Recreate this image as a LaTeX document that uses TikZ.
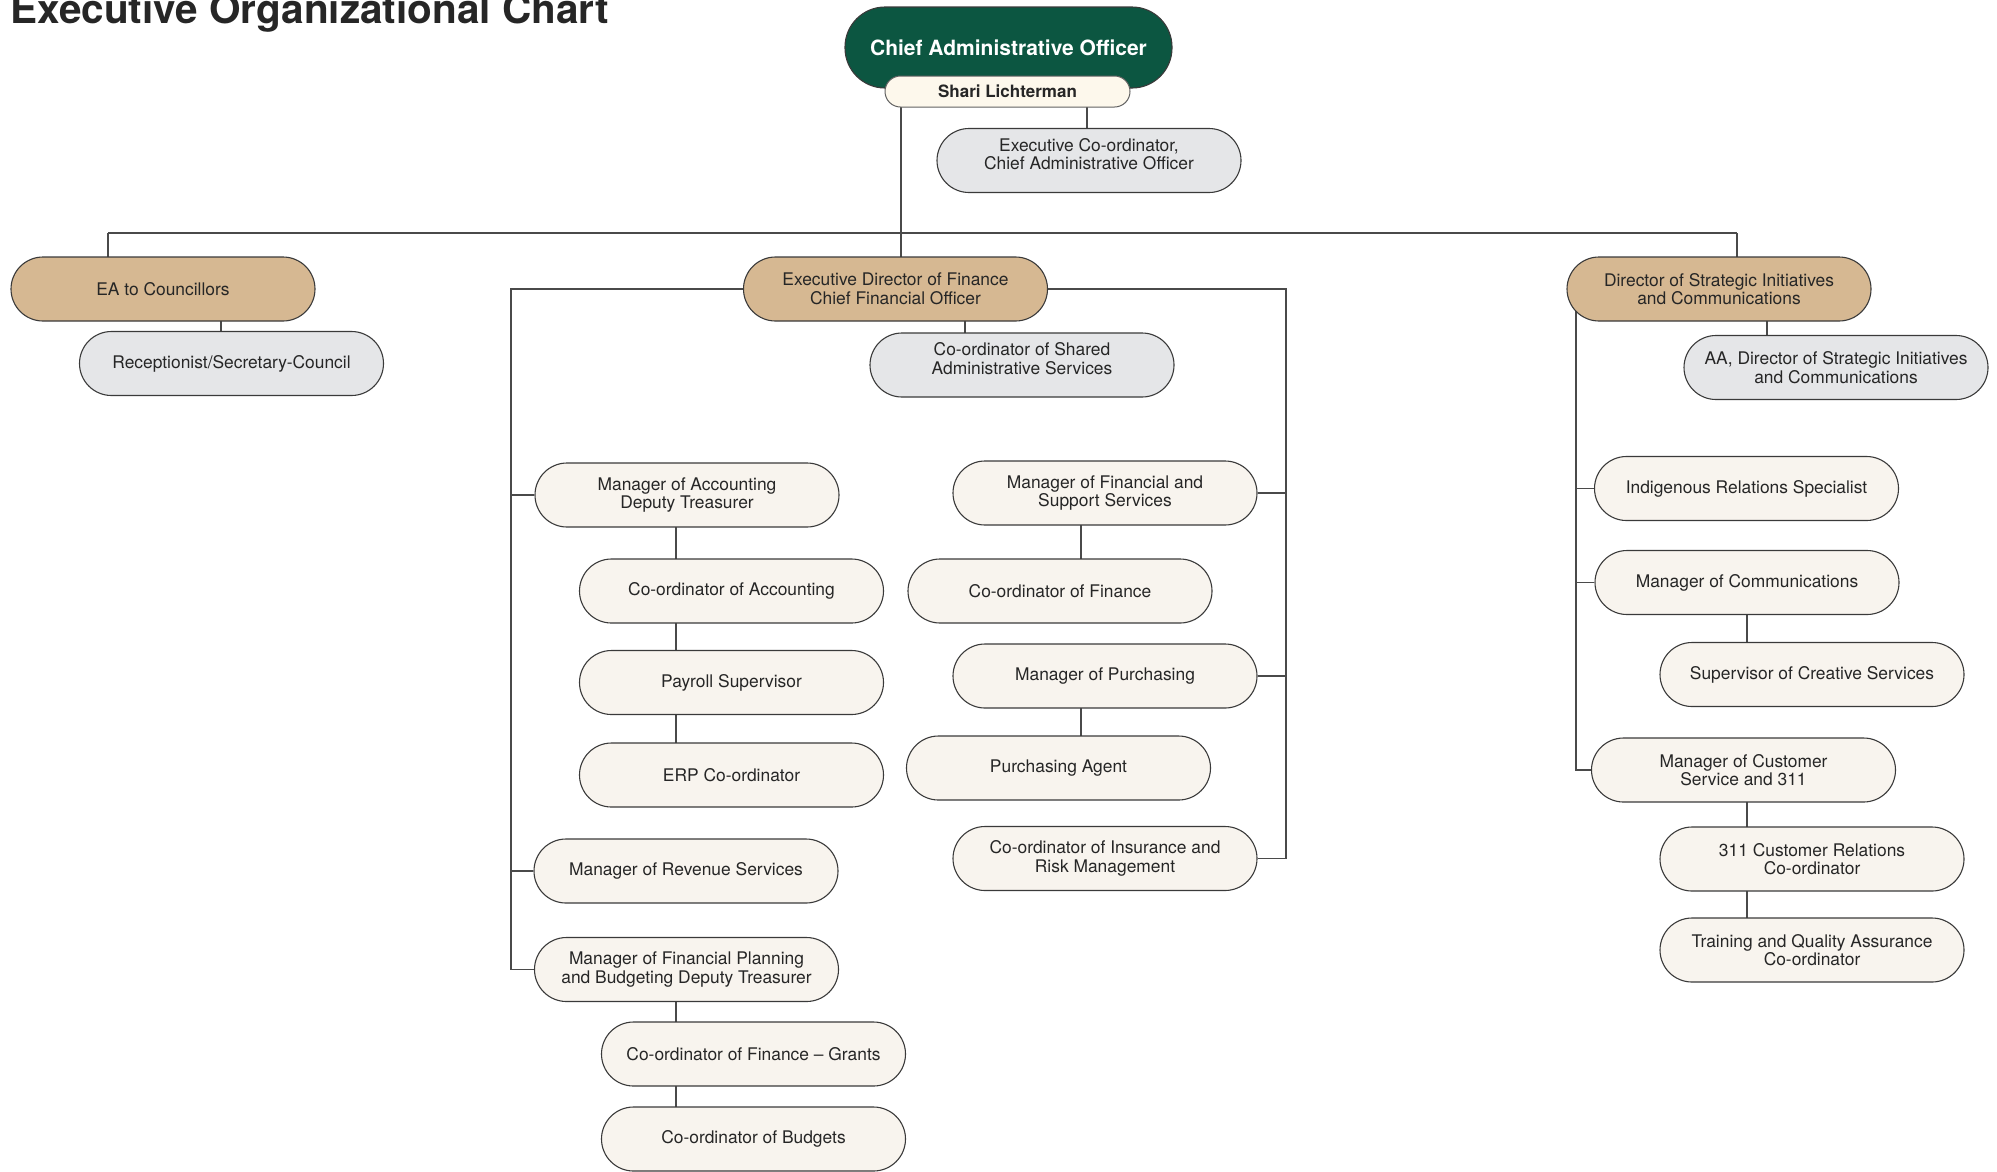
\documentclass[tikz,border=0pt]{standalone}
\usepackage{fontspec}
\setmainfont{TeX Gyre Heros}
\usetikzlibrary{backgrounds}

\definecolor{caogreen}{HTML}{0C5641}
\definecolor{tanfill}{HTML}{D6B892}
\definecolor{greyfill}{HTML}{E5E6E8}
\definecolor{creamfill}{HTML}{F8F4EE}
\definecolor{namefill}{HTML}{FDF8EC}
\definecolor{edgec}{HTML}{3A3A3A}
\definecolor{wirec}{HTML}{4A4A4A}
\definecolor{ink}{HTML}{262626}

\begin{document}
\begin{tikzpicture}[x=1pt,y=-1pt,
  pill/.style={draw=edgec, line width=1.1pt, rounded corners=32pt,
    minimum width=304pt, minimum height=64pt, inner sep=0pt,
    align=center, text=ink, font=\fontsize{17.4}{18.5}\selectfont},
  head/.style={pill, fill=tanfill},
  aide/.style={pill, fill=greyfill},
  raised/.style={text depth=13pt},
  staff/.style={pill, fill=creamfill},
  wire/.style={draw=wirec, line width=1.3pt}]

\useasboundingbox (0,0) rectangle (1997,1171);

% heading
\node[anchor=base west, inner sep=0pt, text=ink,
  font=\bfseries\fontsize{40.5}{40}\selectfont] (title) at (10,23)
  {Executive Organizational Chart};

% chief administrative officer
\node[draw=edgec, line width=1.1pt, fill=caogreen, rounded corners=40pt,
  minimum width=327pt, minimum height=81pt, inner sep=0pt, text=white,
  font=\bfseries\fontsize{21}{24}\selectfont] (cao) at (1008.5,47.5)
  {Chief Administrative Officer};
\node[draw=edgec!80, line width=1pt, fill=namefill, rounded corners=15.5pt,
  minimum width=245pt, minimum height=31pt, inner sep=0pt, text=ink,
  font=\bfseries\fontsize{17}{20}\selectfont] (name) at (1007.5,91.5)
  {Shari Lichterman};
\node[aide, raised] (execco) at (1089,160.5) {Executive Co-ordinator,\\Chief Administrative Officer};

% second level
\node[head] (ea) at (163,289) {EA to Councillors};
\node[aide] (recep) at (231.5,363.5) {Receptionist/Secretary-Council};

\node[head] (fin) at (895.5,289) {Executive Director of Finance\\Chief Financial Officer};
\node[aide, raised] (shared) at (1022,365) {Co-ordinator of Shared\\Administrative Services};

\node[head] (strat) at (1719,289) {Director of Strategic Initiatives\\and Communications};
\node[aide] (aa) at (1836,367.5) {AA, Director of Strategic Initiatives\\and Communications};

% finance, left branch
\node[staff] (mgracc) at (687,495) {Manager of Accounting\\Deputy Treasurer};
\node[staff] (coacc) at (731.5,591) {Co-ordinator of Accounting};
\node[staff] (payroll) at (731.5,682.5) {Payroll Supervisor};
\node[staff] (erp) at (731.5,775) {ERP Co-ordinator};
\node[staff] (revenue) at (686,871) {Manager of Revenue Services};
\node[staff] (finplan) at (686.5,969.5) {Manager of Financial Planning\\and Budgeting Deputy Treasurer};
\node[staff] (grants) at (753.5,1054) {Co-ordinator of Finance – Grants};
\node[staff] (budgets) at (753.5,1139) {Co-ordinator of Budgets};

% finance, right branch
\node[staff] (mgrfs) at (1105,493) {Manager of Financial and\\Support Services};
\node[staff] (cofin) at (1060,591) {Co-ordinator of Finance};
\node[staff] (mgrpur) at (1105,676) {Manager of Purchasing};
\node[staff] (puragent) at (1058.5,768) {Purchasing Agent};
\node[staff] (insur) at (1105,858.5) {Co-ordinator of Insurance and\\Risk Management};

% strategic initiatives
\node[staff] (indig) at (1746.5,488.5) {Indigenous Relations Specialist};
\node[staff] (mgrcomm) at (1747,582.5) {Manager of Communications};
\node[staff] (creative) at (1812,674.5) {Supervisor of Creative Services};
\node[staff] (mgrcust) at (1743.5,770) {Manager of Customer\\Service and 311};
\node[staff] (cr311) at (1812,859) {311 Customer Relations\\Co-ordinator};
\node[staff] (training) at (1812,950) {Training and Quality Assurance\\Co-ordinator};

% connector columns
\coordinate (hub) at (901,233);
\coordinate (busL) at (108,233);
\coordinate (busR) at (1737,233);
\coordinate (xname) at (1087,0);
\coordinate (xea) at (221,0);
\coordinate (xfin) at (965,0);
\coordinate (xstrat) at (1767,0);
\coordinate (colA) at (676,0);
\coordinate (colB) at (1081,0);
\coordinate (colC) at (1747,0);
\coordinate (spineL) at (511,0);
\coordinate (spineR) at (1286,0);
\coordinate (spineS) at (1576,0);

\begin{pgfonlayer}{background}
  % top bus
  \draw[wire] (busL) -- (busR);
  \draw[wire] (name.center -| hub) -- (fin.center -| hub);
  \draw[wire] (busL) -- (ea.center -| busL);
  \draw[wire] (busR) -- (strat.center -| busR);
  \draw[wire] (name.center -| xname) -- (execco.center -| xname);
  % assistants
  \draw[wire] (ea.center -| xea) -- (recep.center -| xea);
  \draw[wire] (fin.center -| xfin) -- (shared.center -| xfin);
  \draw[wire] (strat.center -| xstrat) -- (aa.center -| xstrat);
  % finance spines
  \draw[wire] (fin.west) -| (spineL |- finplan.west) -- (finplan.west);
  \draw[wire] (spineL |- mgracc.west) -- (mgracc.west);
  \draw[wire] (spineL |- revenue.west) -- (revenue.west);
  \draw[wire] (fin.east) -| (spineR |- insur.east) -- (insur.east);
  \draw[wire] (spineR |- mgrfs.east) -- (mgrfs.east);
  \draw[wire] (spineR |- mgrpur.east) -- (mgrpur.east);
  % finance chains
  \draw[wire] (mgracc.center -| colA) -- (erp.center -| colA);
  \draw[wire] (finplan.center -| colA) -- (budgets.center -| colA);
  \draw[wire] (mgrfs.center -| colB) -- (cofin.center -| colB);
  \draw[wire] (mgrpur.center -| colB) -- (puragent.center -| colB);
  % strategic spine and chains
  \draw[wire] (strat.center -| spineS) -- (spineS |- mgrcust.west) -- (mgrcust.west);
  \draw[wire] (spineS |- indig.west) -- (indig.west);
  \draw[wire] (spineS |- mgrcomm.west) -- (mgrcomm.west);
  \draw[wire] (mgrcomm.center -| colC) -- (creative.center -| colC);
  \draw[wire] (mgrcust.center -| colC) -- (training.center -| colC);
\end{pgfonlayer}
\end{tikzpicture}
\end{document}
